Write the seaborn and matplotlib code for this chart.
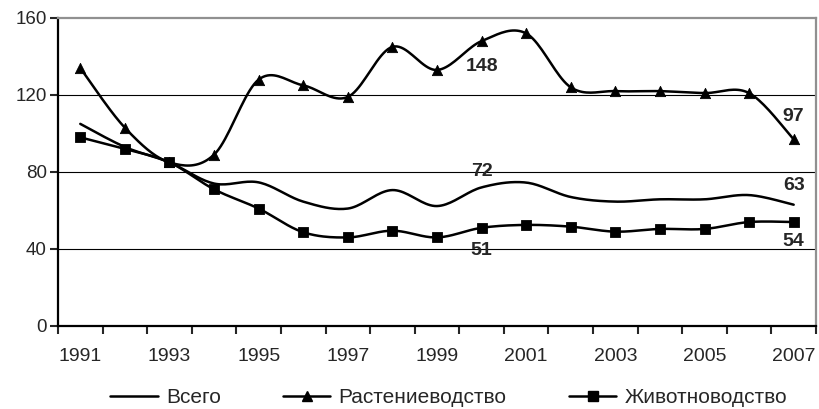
import numpy as np
import pandas as pd
import matplotlib
matplotlib.use("Agg")
import matplotlib.pyplot as plt
from matplotlib.lines import Line2D
import seaborn as sns

sns.set_style("white")
plt.rcParams["font.family"] = ["Liberation Sans", "DejaVu Sans"]

# data
years = list(range(1991, 2008))
total = [105, 93, 85, 74, 74.6, 64.6, 61, 70.6, 62.3, 72, 74.5, 67, 64.6, 65.8, 65.8, 68, 63]
crops = [134, 103, 85, 89, 128, 125, 119, 145, 133, 148, 152, 124, 122, 122, 121, 121, 97]
livestock = [98, 92, 85, 71, 61, 48.7, 46, 49.5, 46, 51, 52.5, 51.6, 49, 50.4, 50.4, 54, 54]
series_names = ["Всего", "Растениеводство", "Животноводство"]
y_ticks = [0, 40, 80, 120, 160]


def smooth(x, y, n=20):
    """Catmull-Rom spline through the points (like Excel smoothed lines)."""
    x = np.asarray(x, float)
    y = np.asarray(y, float)
    px = np.concatenate([[x[0]], x, [x[-1]]])
    py = np.concatenate([[y[0]], y, [y[-1]]])
    xs, ys = [], []
    t = np.linspace(0, 1, n, endpoint=False)
    for i in range(1, len(px) - 2):
        for p, out in ((px, xs), (py, ys)):
            p0, p1, p2, p3 = p[i - 1], p[i], p[i + 1], p[i + 2]
            out.extend(0.5 * (2 * p1 + (-p0 + p2) * t
                              + (2 * p0 - 5 * p1 + 4 * p2 - p3) * t ** 2
                              + (-p0 + 3 * p1 - 3 * p2 + p3) * t ** 3))
    xs.append(x[-1])
    ys.append(y[-1])
    return np.array(xs), np.array(ys)


idx = np.arange(len(years))
fig = plt.figure(figsize=(8.19, 4.09), dpi=100)
ax = fig.add_axes([0.0708, 0.203, 0.9255, 0.753])

markers = [None, "^", "s"]
for name, vals, m in zip(series_names, [total, crops, livestock], markers):
    sx, sy = smooth(idx, vals)
    curve = pd.DataFrame({"x": sx, "y": sy})
    sns.lineplot(data=curve, x="x", y="y", ax=ax, color="black", lw=1.8,
                 sort=False, estimator=None, zorder=3)
    if m:
        pts = pd.DataFrame({"x": idx, "y": vals})
        sns.scatterplot(data=pts, x="x", y="y", ax=ax, marker=m, color="black",
                        s=55, edgecolor="black", zorder=4)

ax.set_xlim(-0.5, len(years) - 0.5)
ax.set_ylim(0, 160)
ax.set_yticks(y_ticks)
ax.set_xticks(idx[::2])
ax.set_xticklabels([str(y) for y in years[::2]])
ax.set_xticks(np.arange(-0.5, len(years), 1), minor=True)
ax.tick_params(axis="x", which="major", length=0, labelsize=14, pad=16)
ax.tick_params(axis="x", which="minor", length=6, width=1.5, direction="out", bottom=True)
ax.tick_params(axis="y", length=6, width=1.5, direction="out", labelsize=13.5, left=True, pad=2)
ax.set_xlabel("")
ax.set_ylabel("")

for yv in y_ticks[1:-1]:
    ax.axhline(yv, color="black", lw=0.8, zorder=1)

ax.spines["left"].set_color("black")
ax.spines["left"].set_linewidth(1.6)
ax.spines["bottom"].set_color("black")
ax.spines["bottom"].set_linewidth(1.6)
ax.spines["top"].set_color("#909090")
ax.spines["top"].set_linewidth(1.6)
ax.spines["right"].set_color("#909090")
ax.spines["right"].set_linewidth(1.6)

# data labels
lab = dict(fontsize=14, fontweight="bold", ha="center", va="center")
ax.text(9, crops[9] - 13, "148", **lab)
ax.text(9, total[9] + 8, "72", **lab)
ax.text(9, livestock[9] - 12, "51", **lab)
ax.text(16.0, crops[16] + 12, "97", **lab)
ax.text(16.0, total[16] + 10, "63", **lab)
ax.text(16.0, livestock[16] - 10, "54", **lab)

handles = [Line2D([], [], color="black", lw=1.8, marker=m, markersize=7)
           for m in markers]
fig.legend(handles, series_names, loc="center", bbox_to_anchor=(0.548, 0.027),
           ncol=3, frameon=False, fontsize=15, handlelength=2.26,
           handletextpad=0.4, columnspacing=3.0)

fig.savefig("out.png", dpi=100)
